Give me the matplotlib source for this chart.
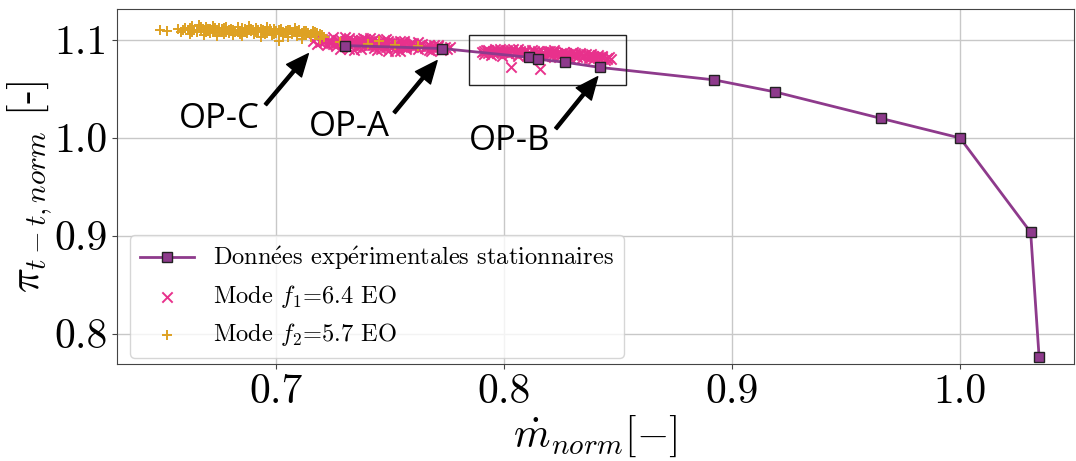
import os
import matplotlib
matplotlib.use("Agg")
import matplotlib.pyplot as plt
from matplotlib.patches import Rectangle
from matplotlib.font_manager import FontProperties

plt.rcParams['mathtext.fontset'] = 'cm'

# Stationary experimental characteristic
stat_m = [0.730, 0.7727, 0.811, 0.815, 0.8266, 0.842, 0.892, 0.919, 0.9653, 1.000, 1.031, 1.0347]
stat_pi = [1.094, 1.091, 1.082, 1.080, 1.077, 1.0717, 1.059, 1.0466, 1.0197, 0.9997, 0.9034, 0.7762]

# Mode f1 around OP-A
opa_m = [0.716, 0.718, 0.720, 0.721, 0.722, 0.723, 0.724, 0.725, 0.726, 0.727, 0.728, 0.729,
         0.730, 0.731, 0.732, 0.733, 0.734, 0.735, 0.736, 0.737, 0.738, 0.739, 0.740, 0.741,
         0.742, 0.743, 0.744, 0.745, 0.746, 0.747, 0.748, 0.749, 0.750, 0.751, 0.752, 0.753,
         0.754, 0.755, 0.756, 0.757, 0.758, 0.759, 0.760, 0.761, 0.762, 0.763, 0.764, 0.765,
         0.766, 0.767, 0.768, 0.769, 0.770, 0.771, 0.772, 0.773, 0.775, 0.776,
         0.726, 0.733, 0.740, 0.745, 0.750, 0.755, 0.760, 0.736, 0.742,
         0.719, 0.721, 0.723, 0.725, 0.727, 0.729, 0.731, 0.733, 0.735, 0.737, 0.739, 0.741,
         0.743, 0.745, 0.747, 0.749, 0.751, 0.753, 0.755, 0.757, 0.759, 0.761, 0.763, 0.765,
         0.767, 0.769, 0.771, 0.773, 0.774, 0.760,
         0.728, 0.734, 0.738, 0.744, 0.748, 0.752, 0.756, 0.730, 0.737, 0.743, 0.749, 0.746,
         0.732, 0.741, 0.754, 0.762, 0.768]
opa_pi = [1.0985, 1.0960, 1.1010, 1.0975, 1.0945, 1.1000, 1.0965, 1.1025, 1.0940, 1.0985, 1.1005, 1.0955,
          1.0990, 1.0930, 1.1015, 1.0965, 1.0985, 1.0925, 1.1000, 1.0950, 1.0975, 1.1010, 1.0935, 1.0965,
          1.0990, 1.0920, 1.0955, 1.0980, 1.0940, 1.1000, 1.0925, 1.0960, 1.0945, 1.0975, 1.0915, 1.0950,
          1.0985, 1.0930, 1.0960, 1.0905, 1.0945, 1.0970, 1.0925, 1.0950, 1.0900, 1.0935, 1.0960, 1.0915,
          1.0940, 1.0895, 1.0930, 1.0950, 1.0910, 1.0935, 1.0890, 1.0920, 1.0905, 1.0930,
          1.0970, 1.0995, 1.0960, 1.0955, 1.0965, 1.0945, 1.0940, 1.0940, 1.0945,
          1.0975, 1.0995, 1.0980, 1.0960, 1.1000, 1.0975, 1.0990, 1.0950, 1.0975, 1.0995, 1.0950, 1.0985,
          1.0965, 1.0935, 1.0970, 1.0990, 1.0940, 1.0965, 1.0975, 1.0930, 1.0955, 1.0935, 1.0950, 1.0930,
          1.0945, 1.0920, 1.0945, 1.0900, 1.0925, 1.0965,
          1.0900, 1.0895, 1.1020, 1.0890, 1.1010, 1.0885, 1.0990, 1.1025, 1.0910, 1.1005, 1.0880, 1.0905,
          1.0905, 1.1015, 1.0880, 1.0975, 1.0880]

# Mode f1 around OP-B
opb_m = [0.790, 0.791, 0.792, 0.793, 0.794, 0.795, 0.796, 0.797, 0.798, 0.799, 0.800, 0.801,
         0.802, 0.803, 0.803, 0.804, 0.805, 0.806, 0.807, 0.808, 0.809, 0.810, 0.811, 0.812,
         0.813, 0.814, 0.815, 0.8156, 0.816, 0.817, 0.818, 0.819, 0.820, 0.821, 0.822, 0.823,
         0.824, 0.825, 0.826, 0.827, 0.828, 0.829, 0.830, 0.831, 0.832, 0.833, 0.834, 0.835,
         0.836, 0.837, 0.838, 0.839, 0.840, 0.841, 0.842, 0.843, 0.844, 0.845, 0.847,
         0.791, 0.793, 0.795, 0.797, 0.799, 0.801, 0.803, 0.805, 0.807, 0.809, 0.811, 0.813,
         0.815, 0.817, 0.819, 0.821, 0.823, 0.825, 0.827, 0.829, 0.831, 0.833, 0.835, 0.837,
         0.839, 0.841, 0.843, 0.845, 0.846, 0.820,
         0.798, 0.806, 0.814, 0.822, 0.830, 0.838]
opb_pi = [1.0875, 1.0850, 1.0895, 1.0865, 1.0840, 1.0880, 1.0905, 1.0860, 1.0885, 1.0835, 1.0870, 1.0895,
          1.0850, 1.0724, 1.0880, 1.0900, 1.0860, 1.0835, 1.0885, 1.0865, 1.0895, 1.0845, 1.0875, 1.0890,
          1.0830, 1.0860, 1.0885, 1.0704, 1.0845, 1.0870, 1.0825, 1.0880, 1.0855, 1.0835, 1.0870, 1.0845,
          1.0820, 1.0860, 1.0875, 1.0835, 1.0855, 1.0815, 1.0845, 1.0865, 1.0825, 1.0850, 1.0810, 1.0840,
          1.0855, 1.0815, 1.0835, 1.0800, 1.0825, 1.0845, 1.0805, 1.0825, 1.0790, 1.0815, 1.0800,
          1.0880, 1.0895, 1.0860, 1.0890, 1.0870, 1.0860, 1.0895, 1.0880, 1.0860, 1.0875, 1.0855, 1.0880,
          1.0865, 1.0850, 1.0865, 1.0875, 1.0860, 1.0845, 1.0865, 1.0850, 1.0840, 1.0860, 1.0830, 1.0845,
          1.0830, 1.0820, 1.0835, 1.0805, 1.0825, 1.0885,
          1.0910, 1.0905, 1.0825, 1.0890, 1.0870, 1.0855]

# Mode f2 (OP-C)
opc_m = [0.649, 0.652, 0.657, 0.658, 0.660, 0.661, 0.662, 0.663, 0.664, 0.665, 0.666, 0.667,
         0.668, 0.669, 0.670, 0.671, 0.672, 0.673, 0.674, 0.675, 0.676, 0.677, 0.678, 0.679,
         0.680, 0.681, 0.682, 0.683, 0.684, 0.685, 0.686, 0.687, 0.688, 0.689, 0.690, 0.691,
         0.692, 0.693, 0.694, 0.695, 0.696, 0.697, 0.698, 0.699, 0.700, 0.701, 0.702, 0.703,
         0.704, 0.705, 0.706, 0.707, 0.708, 0.709, 0.710, 0.711, 0.712, 0.713, 0.714, 0.715,
         0.716, 0.717, 0.718, 0.719, 0.720, 0.721,
         0.663, 0.668, 0.672, 0.676, 0.680, 0.684, 0.688, 0.692, 0.696, 0.700, 0.704, 0.708,
         0.712, 0.716, 0.670, 0.678, 0.686, 0.694, 0.702, 0.710,
         0.659, 0.662, 0.665, 0.667, 0.669, 0.671, 0.673, 0.675, 0.677, 0.679, 0.681, 0.683,
         0.685, 0.687, 0.689, 0.691, 0.693, 0.695, 0.697, 0.699, 0.701, 0.703, 0.705, 0.707,
         0.709, 0.711, 0.713, 0.715, 0.717, 0.719,
         0.728, 0.740, 0.752, 0.762, 0.745]
opc_pi = [1.1095, 1.1093, 1.1105, 1.1080, 1.1120, 1.1095, 1.1060, 1.1135, 1.1100, 1.1080, 1.1150, 1.1110,
          1.1045, 1.1125, 1.1090, 1.1070, 1.1140, 1.1100, 1.1035, 1.1120, 1.1080, 1.1060, 1.1130, 1.1095,
          1.1110, 1.1050, 1.1075, 1.1125, 1.1090, 1.1035, 1.1105, 1.1065, 1.1140, 1.1085, 1.1055, 1.1115,
          1.1075, 1.1030, 1.1100, 1.1060, 1.1125, 1.1085, 1.1045, 1.1105, 1.1070, 1.0990, 1.1110, 1.1050,
          1.1085, 1.1025, 1.1095, 1.1060, 1.1115, 1.1040, 1.1075, 1.1010, 1.1090, 1.1050, 1.1070, 1.1025,
          1.1085, 1.1045, 1.1065, 1.1005, 1.1050, 1.1030,
          1.1075, 1.1095, 1.1080, 1.1110, 1.1085, 1.1060, 1.1100, 1.1095, 1.1070, 1.1090, 1.1065, 1.1080,
          1.1060, 1.1065, 1.1105, 1.1075, 1.1080, 1.1080, 1.1075, 1.1095,
          1.1100, 1.1115, 1.1095, 1.1130, 1.1075, 1.1105, 1.1120, 1.1090, 1.1115, 1.1070, 1.1100, 1.1085,
          1.1120, 1.1095, 1.1110, 1.1080, 1.1105, 1.1090, 1.1110, 1.1060, 1.1095, 1.1080, 1.1100, 1.1075,
          1.1090, 1.1070, 1.1085, 1.1060, 1.1075, 1.1055,
          1.0975, 1.0960, 1.0945, 1.0940, 1.0985]

xticks = [0.7, 0.8, 0.9, 1.0]
xtick_labels = ['0.7', '0.8', '0.9', '1.0']
yticks = [0.8, 0.9, 1.0, 1.1]
ytick_labels = ['0.8', '0.9', '1.0', '1.1']

purple = '#8e3a8c'
pink = '#e8318c'
gold = '#dea123'

cm_font = os.path.join(matplotlib.get_data_path(), 'fonts', 'ttf', 'cmr10.ttf')
fp30 = FontProperties(fname=cm_font, size=30)
fp_leg = FontProperties(fname=cm_font, size=17.6)

fig = plt.figure(figsize=(10.76, 4.61), dpi=100)
ax = fig.add_axes([0.1087, 0.2104, 0.8894, 0.7694])

ax.plot(stat_m, stat_pi, color=purple, lw=2, marker='s', markersize=7,
        markerfacecolor=purple, markeredgecolor='#222222', markeredgewidth=1,
        label=r'Donn$\mathrm{\acute{e}}$es exp$\mathrm{\acute{e}}$rimentales stationnaires', zorder=4)
ax.scatter(opa_m + opb_m, opa_pi + opb_pi, marker='x', s=55, color=pink, linewidths=1.4,
           label=r'Mode $f_1$=6.4 EO', zorder=2)
ax.scatter(opc_m, opc_pi, marker='+', s=55, color=gold, linewidths=1.4,
           label=r'Mode $f_2$=5.7 EO', zorder=3)

ax.add_patch(Rectangle((0.7847, 1.0541), 0.0685, 0.0503, fill=False,
                       edgecolor='#222222', lw=1, zorder=5))

arrow = dict(facecolor='black', edgecolor='black', width=2.2, headwidth=14, headlength=16, shrink=0)
for name, xy, tail, txt in [('OP-C', (0.714, 1.0857), (0.6952, 1.0337), (0.675, 1.0194)),
                            ('OP-A', (0.7705, 1.0786), (0.7517, 1.0255), (0.732, 1.0112)),
                            ('OP-B', (0.841, 1.0622), (0.8226, 1.0092), (0.8025, 0.9970))]:
    ax.annotate('', xy=xy, xytext=tail, arrowprops=arrow, zorder=6)
    ax.text(txt[0], txt[1], name, family='Open Sans', fontsize=25,
            ha='center', va='center', zorder=6)

ax.set_xlim(0.630, 1.050)
ax.set_ylim(0.769, 1.131)
ax.set_xticks(xticks)
ax.set_xticklabels(xtick_labels, fontproperties=fp30)
ax.set_yticks(yticks)
ax.set_yticklabels(ytick_labels, fontproperties=fp30)
ax.tick_params(color='#444444')
ax.grid(color='#c8c8c8', lw=1)
ax.set_axisbelow(True)
for s in ax.spines.values():
    s.set_color('#444444')

ax.set_xlabel(r'$\dot{m}_{norm}[-]$', fontsize=30, labelpad=2)
ax.set_ylabel(r'$\pi_{t-t,norm}$ [-]', fontproperties=fp30)
ax.yaxis.set_label_coords(-0.066, 0.5)

ax.legend(loc='lower left', bbox_to_anchor=(0.0136, 0.017), borderaxespad=0,
          prop=fp_leg, scatterpoints=1, handlelength=2.2, labelspacing=0.45)

fig.savefig('out.png', dpi=100)
